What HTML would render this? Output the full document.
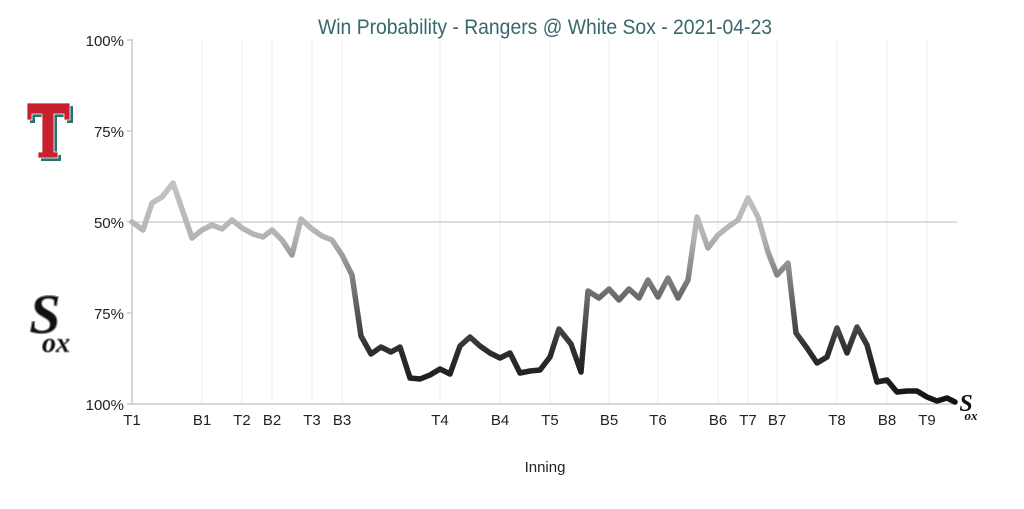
<!DOCTYPE html>
<html><head><style>body{margin:0;background:#fff}svg{display:block}</style></head>
<body>
<svg width="1024" height="509" xmlns="http://www.w3.org/2000/svg" font-family="'Liberation Sans', sans-serif">
<defs>
<linearGradient id="g" gradientUnits="userSpaceOnUse" x1="0" y1="180" x2="0" y2="405">
<stop offset="0" stop-color="#c4c4c4"/>
<stop offset="0.25" stop-color="#b2b4b5"/>
<stop offset="0.5" stop-color="#6c7072"/>
<stop offset="0.75" stop-color="#2e2f31"/>
<stop offset="1" stop-color="#111"/>
</linearGradient>
</defs>
<text x="545" y="34" text-anchor="middle" font-size="21" fill="#36686c" textLength="454" lengthAdjust="spacingAndGlyphs">Win Probability - Rangers @ White Sox - 2021-04-23</text>
<g stroke="#ececec" stroke-width="1">
<line x1="202" y1="40" x2="202" y2="404"/><line x1="242" y1="40" x2="242" y2="404"/><line x1="272" y1="40" x2="272" y2="404"/><line x1="312" y1="40" x2="312" y2="404"/><line x1="342" y1="40" x2="342" y2="404"/><line x1="440" y1="40" x2="440" y2="404"/><line x1="500" y1="40" x2="500" y2="404"/><line x1="550" y1="40" x2="550" y2="404"/><line x1="609" y1="40" x2="609" y2="404"/><line x1="658" y1="40" x2="658" y2="404"/><line x1="718" y1="40" x2="718" y2="404"/><line x1="748" y1="40" x2="748" y2="404"/><line x1="777" y1="40" x2="777" y2="404"/><line x1="837" y1="40" x2="837" y2="404"/><line x1="887" y1="40" x2="887" y2="404"/><line x1="927" y1="40" x2="927" y2="404"/>
</g>
<line x1="132" y1="222" x2="957" y2="222" stroke="#c8c8c8" stroke-width="1.2"/>
<g stroke="#c8c8c8" stroke-width="1.5">
<line x1="132" y1="39" x2="132" y2="405"/><line x1="132" y1="404" x2="957" y2="404"/>
<line x1="127" y1="40" x2="132" y2="40"/><line x1="127" y1="131" x2="132" y2="131"/><line x1="127" y1="222" x2="132" y2="222"/><line x1="127" y1="313" x2="132" y2="313"/><line x1="127" y1="404" x2="132" y2="404"/>
</g>
<g font-size="15" fill="#222" text-anchor="end">
<text x="124" y="46">100%</text><text x="124" y="137">75%</text><text x="124" y="228">50%</text><text x="124" y="319">75%</text><text x="124" y="410">100%</text>
</g>
<g font-size="15" fill="#222" text-anchor="middle">
<text x="132" y="425">T1</text><text x="202" y="425">B1</text><text x="242" y="425">T2</text><text x="272" y="425">B2</text><text x="312" y="425">T3</text><text x="342" y="425">B3</text><text x="440" y="425">T4</text><text x="500" y="425">B4</text><text x="550" y="425">T5</text><text x="609" y="425">B5</text><text x="658" y="425">T6</text><text x="718" y="425">B6</text><text x="748" y="425">T7</text><text x="777" y="425">B7</text><text x="837" y="425">T8</text><text x="887" y="425">B8</text><text x="927" y="425">T9</text>
<text x="545" y="472">Inning</text>
</g>
<polyline fill="none" stroke="url(#g)" stroke-width="5.5" stroke-linejoin="round" stroke-linecap="round" points="132,222 143,230 152,203 162,197 173,183 192,238 202,230 212,225 222,229 232,220 242,228 253,234 263,237 272,230 282,240 292,255 301,219 312,229 322,236 332,240 342,255 352,275 361,336 371,354 381,347 391,352 400,347 410,378 420,379 430,375 440,369 450,374 460,346 470,337 480,346 490,353 500,358 510,353 520,373 530,371 540,370 550,357 559,329 571,344 581,372 588,291 599,298 609,289 619,300 629,289 639,298 648,280 658,297 668,278 678,298 688,280 697,217 708,248 718,235 728,227 738,220 748,198 758,217 768,252 777,275 788,263 796,333 807,348 817,363 827,357 837,328 847,353 857,327 867,345 877,382 887,380 897,392 907,391 917,391 927,397 937,401 947,398 955,402"/>
<g>
<path d="M27 103 H70 V120 H64 V114 H54 V152 H58 V158 H38 V152 H42 V114 H32 V120 H27 Z" fill="#2f6e6a" transform="translate(3,3)"/>
<path d="M27 103 H70 V120 H64 V114 H54 V152 H58 V158 H38 V152 H42 V114 H32 V120 H27 Z" fill="#c8202e" stroke="#fff" stroke-width="0.8"/>
</g>
<text x="45" y="333" font-family="'Liberation Serif', serif" font-size="56" font-weight="bold" font-style="italic" fill="#111" text-anchor="middle" stroke="#888" stroke-width="1.2">S</text>
<text x="56" y="352" font-family="'Liberation Serif', serif" font-size="28" font-weight="bold" font-style="italic" fill="#111" text-anchor="middle" stroke="#888" stroke-width="1">ox</text>
<text x="966" y="411" font-family="'Liberation Serif', serif" font-size="24" font-weight="bold" font-style="italic" fill="#111" text-anchor="middle">S</text>
<text x="971" y="420" font-family="'Liberation Serif', serif" font-size="13" font-weight="bold" font-style="italic" fill="#111" text-anchor="middle">ox</text>
</svg>
</body></html>
